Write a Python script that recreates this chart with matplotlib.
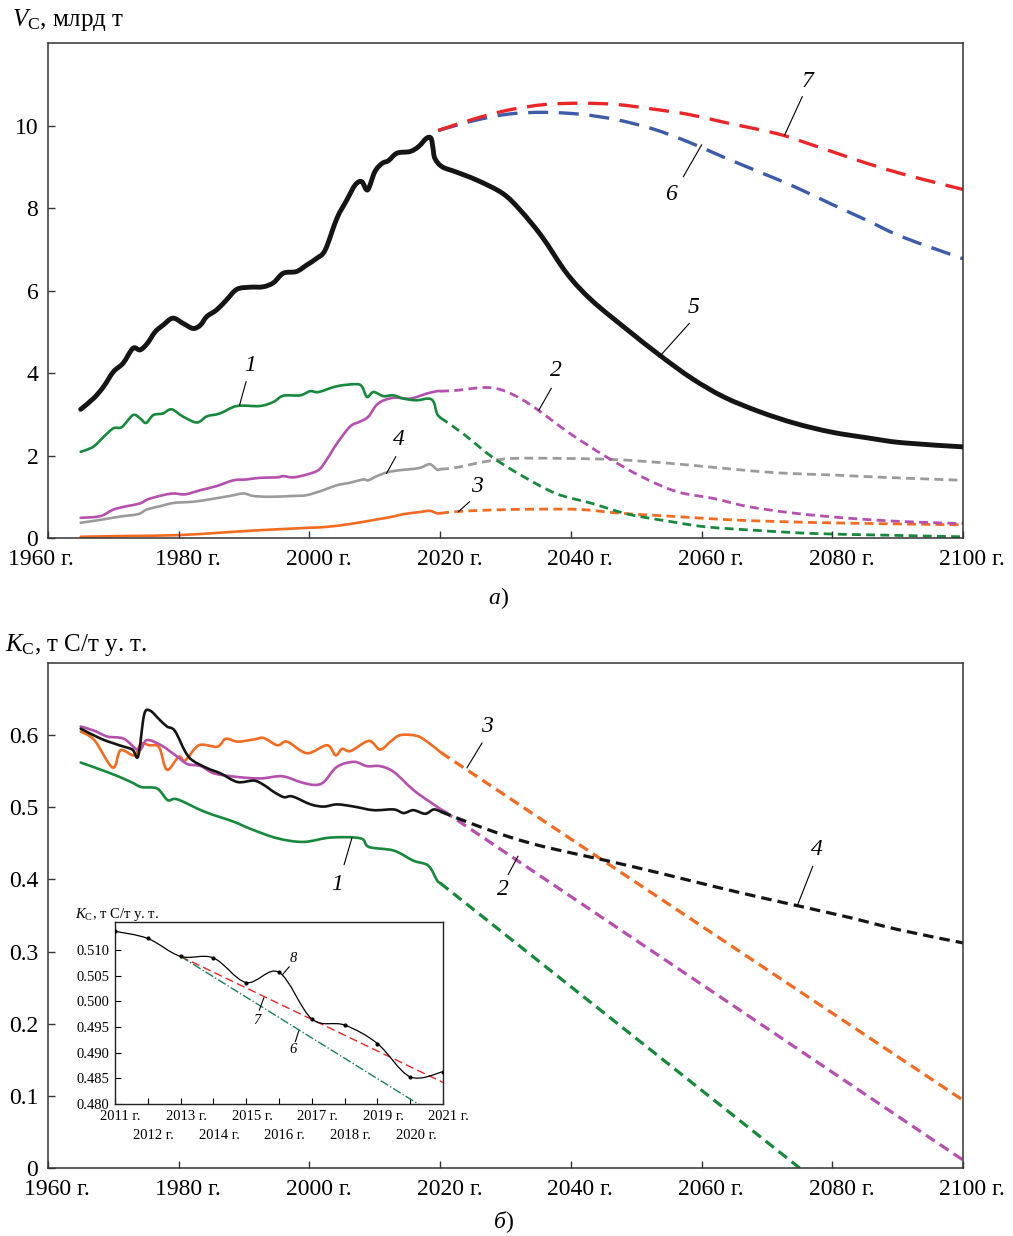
import matplotlib
matplotlib.use("Agg")
import matplotlib.pyplot as plt
from matplotlib.path import Path
from matplotlib.patches import PathPatch

plt.rcParams['font.family'] = ['Liberation Serif', 'DejaVu Serif']
plt.rcParams['mathtext.fontset'] = 'custom'
plt.rcParams['mathtext.rm'] = 'Liberation Serif'
plt.rcParams['mathtext.it'] = 'Liberation Serif:italic'

# ---------- а) V_C, млрд т ----------
years5 = [1965, 1967, 1968.5, 1970, 1971.5, 1973, 1974.1, 1975.2, 1976.4, 1977.6, 1979.1,
          1980.7, 1982.2, 1983.3, 1984.3, 1985.8, 1987.3, 1988.9, 1990.9, 1992.9, 1994.5,
          1996, 1998, 1999.6, 2001.1, 2002.4, 2004.2, 2005.7, 2007, 2008, 2008.9, 2010,
          2011.1, 2012.1, 2013.4, 2015.4, 2016.7, 2017.9, 2018.6, 2018.9, 2019.2, 2020.3,
          2022.5, 2025.7, 2029.6, 2032.3, 2035.6, 2039.4, 2043.2, 2048.7, 2053.6, 2058.5,
          2063.4, 2068.9, 2074.3, 2079.8, 2085.3, 2090.7, 2100]
vals5 = [3.12, 3.39, 3.67, 4.03, 4.24, 4.60, 4.56, 4.72, 5.00, 5.16, 5.33,
         5.20, 5.08, 5.16, 5.37, 5.53, 5.77, 6.03, 6.08, 6.09, 6.19,
         6.42, 6.46, 6.62, 6.78, 6.98, 7.75, 8.19, 8.56, 8.64, 8.44, 8.88,
         9.08, 9.15, 9.33, 9.37, 9.49, 9.69, 9.69, 9.45, 9.20, 9.00,
         8.87, 8.67, 8.35, 7.94, 7.30, 6.41, 5.76, 5.04, 4.43, 3.87,
         3.42, 3.06, 2.78, 2.57, 2.43, 2.31, 2.21]

years7 = [2019.7, 2025.2, 2030.6, 2036.1, 2041.6, 2047, 2052.5, 2058, 2063.4, 2071.6,
          2077.1, 2082.5, 2088, 2093.5, 2100]
vals7 = [9.88, 10.16, 10.38, 10.51, 10.54, 10.51, 10.40, 10.27, 10.08, 9.80,
         9.52, 9.23, 8.95, 8.71, 8.45]
years6 = [2019.7, 2025.2, 2030.6, 2036.1, 2041.6, 2047, 2052.5, 2058, 2063.4, 2068.9,
          2074.3, 2079.8, 2085.3, 2090.7, 2100]
vals6 = [9.88, 10.12, 10.28, 10.32, 10.27, 10.14, 9.92, 9.60, 9.23, 8.87,
         8.51, 8.10, 7.70, 7.30, 6.77]

v1_years = [1965, 1966.9, 1968.5, 1970, 1971.3, 1973, 1974.1, 1975, 1976.1, 1977.6, 1978.9,
            1980.7, 1982.8, 1984.3, 1986.3, 1988.9, 1992.4, 1994.5, 1996, 1998.6, 2000.1,
            2001.4, 2004.2, 2007, 2008, 2008.8, 2009.8, 2011.3, 2012.8, 2014.4, 2016.4,
            2018.2, 2019, 2019.5, 2020]
v1_vals = [2.09, 2.21, 2.45, 2.66, 2.69, 2.98, 2.90, 2.79, 2.98, 3.02, 3.12,
           2.94, 2.80, 2.95, 3.02, 3.20, 3.20, 3.30, 3.45, 3.46, 3.56,
           3.54, 3.68, 3.73, 3.68, 3.42, 3.54, 3.44, 3.46, 3.38, 3.34,
           3.38, 3.30, 3.02, 2.92]
v1_fyears = [2020, 2023.5, 2027.9, 2032.3, 2037.7, 2043.2, 2048.7, 2055.2, 2060.7, 2068.9,
             2077.1, 2088, 2100]
v1_fvals = [2.92, 2.53, 1.97, 1.53, 1.08, 0.84, 0.58, 0.40, 0.27, 0.18, 0.11, 0.07, 0.03]

v2_years = [1965, 1968, 1970, 1972, 1974.1, 1975.3, 1977.6, 1979.2, 1981, 1983.3, 1985.8,
            1988.4, 1990.4, 1992.4, 1995, 1996, 1997.5, 1999.6, 2001.4, 2002.6, 2004.2,
            2006.2, 2007.7, 2009, 2010.5, 2012.8, 2015.4, 2017.9, 2019.5, 2020]
v2_vals = [0.49, 0.53, 0.69, 0.77, 0.84, 0.94, 1.04, 1.08, 1.06, 1.16, 1.26,
           1.40, 1.42, 1.46, 1.47, 1.50, 1.47, 1.54, 1.65, 1.89, 2.29,
           2.70, 2.82, 2.94, 3.26, 3.40, 3.38, 3.50, 3.56, 3.56]
v2_fyears = [2020, 2022.5, 2026.8, 2029.6, 2032.3, 2035, 2039.9, 2045.4, 2050.9, 2056.3,
             2061.8, 2067.2, 2074.3, 2082.5, 2090.7, 2100]
v2_fvals = [3.56, 3.58, 3.65, 3.58, 3.38, 3.10, 2.53, 1.97, 1.48, 1.12,
            0.96, 0.76, 0.60, 0.48, 0.40, 0.35]

v3_years = [1965, 1972, 1980, 1987.3, 1992.4, 2000.1, 2002.6, 2006.2, 2010.3, 2012.8,
            2014.4, 2016.9, 2018.4, 2019.5, 2020]
v3_vals = [0.03, 0.05, 0.07, 0.14, 0.19, 0.25, 0.27, 0.34, 0.45, 0.52,
           0.58, 0.63, 0.66, 0.60, 0.60]
v3_fyears = [2020, 2022.5, 2027.9, 2035, 2041.6, 2047.6, 2055.2, 2063.4, 2071.6, 2082.5, 2100]
v3_fvals = [0.60, 0.64, 0.68, 0.70, 0.69, 0.60, 0.53, 0.45, 0.40, 0.36, 0.32]

v4_years = [1965, 1968, 1971, 1973.8, 1975.1, 1977.1, 1979.2, 1982.2, 1984.8, 1987.8,
            1989.9, 1991.4, 1994, 1997.5, 1999.6, 2002.1, 2004.2, 2006.2, 2008.2, 2009,
            2010.3, 2012.3, 2014.9, 2016.9, 2018.4, 2019.5, 2020]
v4_vals = [0.37, 0.44, 0.52, 0.58, 0.69, 0.77, 0.85, 0.88, 0.94, 1.02,
           1.08, 1.02, 1.00, 1.02, 1.04, 1.16, 1.28, 1.34, 1.42, 1.40,
           1.50, 1.61, 1.66, 1.70, 1.79, 1.66, 1.67]
v4_fyears = [2020, 2022.5, 2026.8, 2031.2, 2038.8, 2047, 2055.2, 2063.4, 2071.6, 2079.8, 2088, 2100]
v4_fvals = [1.67, 1.71, 1.85, 1.93, 1.93, 1.90, 1.81, 1.69, 1.58, 1.53, 1.47, 1.40]

# ---------- б) K_C, т С/т у. т. ----------
k1_years = [1965, 1969.6, 1972.7, 1974.3, 1976.7, 1978.3, 1979.8, 1983.9, 1988.4, 1991,
            1995.1, 1999.1, 2003.2, 2007.8, 2009.1, 2012.9, 2015.9, 2018.2, 2019.5, 2020]
k1_vals = [0.562, 0.547, 0.535, 0.528, 0.526, 0.510, 0.511, 0.494, 0.480, 0.470,
           0.457, 0.452, 0.458, 0.457, 0.445, 0.440, 0.426, 0.419, 0.399, 0.395]
k1_fyears = [2020, 2075]
k1_fvals = [0.395, 0.0]

k2_years = [1965, 1967.1, 1969.1, 1971.6, 1973.9, 1975.1, 1977.3, 1979.8, 1981.3, 1983.4,
            1985.4, 1989, 1992.5, 1995.8, 1998.6, 2000.7, 2002.2, 2004.2, 2006.8, 2008.8,
            2010.8, 2012.9, 2015.9, 2018.5, 2020.5]
k2_vals = [0.612, 0.606, 0.598, 0.595, 0.579, 0.593, 0.586, 0.570, 0.560, 0.557,
           0.547, 0.542, 0.540, 0.543, 0.535, 0.531, 0.535, 0.556, 0.563, 0.557,
           0.557, 0.549, 0.524, 0.507, 0.495]
k2_fyears = [2020.5, 2100]
k2_fvals = [0.495, 0.011]

k3_years = [1965, 1967.1, 1969.9, 1971.1, 1973.2, 1974.2, 1975.5, 1977, 1978.2, 1980,
            1981, 1983.1, 1985.9, 1987.2, 1989, 1991.5, 1993, 1995.1, 1996.6, 1999.6,
            2002.7, 2004, 2005, 2006.3, 2009.1, 2010.8, 2012.4, 2013.9, 2016.4, 2018, 2020.1]
k3_vals = [0.605, 0.593, 0.555, 0.579, 0.572, 0.588, 0.586, 0.583, 0.552, 0.570,
           0.565, 0.586, 0.584, 0.595, 0.591, 0.594, 0.596, 0.586, 0.591, 0.575,
           0.586, 0.572, 0.581, 0.578, 0.592, 0.580, 0.591, 0.600, 0.599, 0.591, 0.576]
k3_fyears = [2020.1, 2100]
k3_fvals = [0.576, 0.094]

k4_years = [1965, 1968.1, 1970.9, 1972.9, 1973.8, 1974.7, 1975.6, 1977, 1978.2, 1979.4,
            1981, 1982.1, 1984.4, 1986.4, 1989, 1991.5, 1993, 1994.6, 1996.1, 1997.4,
            2000.2, 2002.2, 2004.2, 2006.8, 2009.8, 2012.9, 2014.4, 2015.9, 2017.7, 2019, 2020.1]
k4_vals = [0.609, 0.595, 0.586, 0.580, 0.571, 0.628, 0.634, 0.622, 0.612, 0.606,
           0.577, 0.565, 0.554, 0.547, 0.535, 0.537, 0.531, 0.521, 0.514, 0.515,
           0.504, 0.501, 0.504, 0.501, 0.496, 0.497, 0.492, 0.496, 0.491, 0.497, 0.494]
k4_fyears = [2020.1, 2025.2, 2030.9, 2036.5, 2045, 2053.5, 2062, 2070.5, 2081.8, 2090.3, 2100]
k4_fvals = [0.494, 0.476, 0.458, 0.444, 0.427, 0.409, 0.390, 0.372, 0.349, 0.330, 0.312]

# inset: 2011-2021
ins_years = [2011, 2012, 2013, 2014, 2015, 2016, 2017, 2018, 2019, 2020, 2021]
ins_k = [0.5137, 0.5123, 0.5088, 0.5085, 0.5037, 0.5057, 0.4966, 0.4954, 0.4918, 0.4853, 0.4863]
trend7_years = [2013, 2021]
trend7_vals = [0.5088, 0.4842]
trend6_years = [2013, 2021]
trend6_vals = [0.5088, 0.4770]

xticks = [1960, 1980, 2000, 2020, 2040, 2060, 2080, 2100]

GREEN = '#17893d'
MAGENTA = '#b550ae'
ORANGE = '#f36b21'
GRAY = '#9b9b9b'
BLACK = '#151515'
RED = '#ea2629'
BLUE = '#3c5ba8'
SPINE = '#333333'
FS = 17


def smooth(ax, xs, ys, **kw):
    """Draw a curve through the points as Catmull-Rom cubic Bezier pieces."""
    pts = list(zip(xs, ys))
    verts = [pts[0]]
    codes = [Path.MOVETO]
    for i in range(len(pts) - 1):
        p0 = pts[i - 1] if i > 0 else pts[i]
        p1, p2 = pts[i], pts[i + 1]
        p3 = pts[i + 2] if i + 2 < len(pts) else pts[i + 1]
        c1 = (p1[0] + (p2[0] - p0[0]) / 6, p1[1] + (p2[1] - p0[1]) / 6)
        c2 = (p2[0] - (p3[0] - p1[0]) / 6, p2[1] - (p3[1] - p1[1]) / 6)
        verts += [c1, c2, p2]
        codes += [Path.CURVE4] * 3
    kw.setdefault('capstyle', 'round')
    kw.setdefault('joinstyle', 'round')
    ax.add_patch(PathPatch(Path(verts, codes), fill=False, **kw))


fig = plt.figure(figsize=(10.13, 12.36), dpi=100)
ax1 = fig.add_axes([0.0474, 0.5647, 0.9033, 0.4005])
ax2 = fig.add_axes([0.0474, 0.0550, 0.9033, 0.4086])


def style_axes(ax, first_shift=0):
    for s in ax.spines.values():
        s.set_color(SPINE)
        s.set_linewidth(1.1)
    ax.set_xlim(1960, 2100)
    ax.set_xticks(xticks)
    ax.tick_params(direction='in', length=5, width=1, color=SPINE,
                   labelsize=FS, pad=7, labelbottom=False)
    # the year number sits centred on the tick, " г." hangs to the right
    for i, yr in enumerate(xticks):
        dx = -FS - (first_shift if i == 0 else 0)
        ax.annotate(f'{yr} г.', xy=(yr, 0), xycoords=('data', 'axes fraction'),
                    xytext=(dx, -8), textcoords='offset points',
                    ha='left', va='top', fontsize=FS)


def tag(ax, s, txt, p0, p1, fs=FS):
    ax.plot([p0[0], p1[0]], [p0[1], p1[1]], color='black', lw=0.8, zorder=6)
    ax.text(txt[0], txt[1], s, fontsize=fs, style='italic',
            ha='center', va='center', zorder=6)


# ----- top panel -----
for yrs, vals, fy, fv, c in [(v4_years, v4_vals, v4_fyears, v4_fvals, GRAY),
                             (v3_years, v3_vals, v3_fyears, v3_fvals, ORANGE),
                             (v2_years, v2_vals, v2_fyears, v2_fvals, MAGENTA),
                             (v1_years, v1_vals, v1_fyears, v1_fvals, GREEN)]:
    smooth(ax1, yrs, vals, color=c, lw=1.9)
    smooth(ax1, fy, fv, color=c, lw=2.0, linestyle=(0, (3.2, 1.9)), capstyle='butt')

smooth(ax1, years6, vals6, color=BLUE, lw=2.4, linestyle=(0, (6, 3.2)), capstyle='butt')
smooth(ax1, years7, vals7, color=RED, lw=2.4, linestyle=(0, (6, 3.2)), capstyle='butt')
smooth(ax1, years5, vals5, color=BLACK, lw=3.5, zorder=4)

ax1.set_ylim(0, 12)
ax1.set_yticks([0, 2, 4, 6, 8, 10])
ax1.set_yticklabels(['0', '2', '4', '6', '8', '10'])
style_axes(ax1, first_shift=12)

tag(ax1, '1', (1990.9, 4.19), (1990.3, 3.79), (1989.3, 3.22))
tag(ax1, '4', (2013.7, 2.38), (2013.2, 1.97), (2011.8, 1.57))
tag(ax1, '2', (2037.7, 4.07), (2037.0, 3.63), (2035.1, 3.10))
tag(ax1, '3', (2025.6, 1.24), (2024.5, 0.88), (2022.8, 0.64))
tag(ax1, '5', (2058.7, 5.58), (2058.1, 5.20), (2053.8, 4.44))
tag(ax1, '6', (2055.3, 8.32), (2057.2, 8.76), (2060.0, 9.53))
tag(ax1, '7', (2076.2, 11.06), (2075.4, 10.70), (2072.7, 9.77))

fig.text(0.012, 0.984, r'$V_{\mathrm{C}}$, млрд т', fontsize=18, ha='left', va='center')
fig.text(0.494, 0.516, 'а', fontsize=FS, style='italic', ha='right', va='center')
fig.text(0.494, 0.516, ')', fontsize=FS, ha='left', va='center')

# ----- bottom panel -----
for yrs, vals, fy, fv, c in [(k1_years, k1_vals, k1_fyears, k1_fvals, GREEN),
                             (k3_years, k3_vals, k3_fyears, k3_fvals, ORANGE),
                             (k2_years, k2_vals, k2_fyears, k2_fvals, MAGENTA),
                             (k4_years, k4_vals, k4_fyears, k4_fvals, BLACK)]:
    smooth(ax2, yrs, vals, color=c, lw=1.9)
    smooth(ax2, fy, fv, color=c, lw=2.3, linestyle=(0, (3.3, 1.9)), capstyle='butt')

ax2.set_ylim(0, 0.7)
ax2.set_yticks([0, 0.1, 0.2, 0.3, 0.4, 0.5, 0.6])
ax2.set_yticklabels(['0', '0.1', '0.2', '0.3', '0.4', '0.5', '0.6'])
style_axes(ax2)

tag(ax2, '1', (2004.2, 0.393), (2005.3, 0.4205), (2006.5, 0.4576))
tag(ax2, '3', (2027.2, 0.6125), (2026.4, 0.589), (2024.1, 0.5548))
tag(ax2, '2', (2029.6, 0.386), (2030.4, 0.4067), (2031.9, 0.432))
tag(ax2, '4', (2077.7, 0.442), (2077.0, 0.418), (2074.7, 0.365))

fig.text(0.005, 0.478, r'$K_{\mathrm{C}}$, т С/т у. т.', fontsize=18, ha='left', va='center')
fig.text(0.499, 0.011, 'б', fontsize=FS, style='italic', ha='right', va='center')
fig.text(0.499, 0.011, ')', fontsize=FS, ha='left', va='center')

# ----- inset -----
axi = fig.add_axes([0.1135, 0.1068, 0.3238, 0.1472], zorder=5)
axi.set_facecolor('white')
FSI = 10.5

smooth(axi, ins_years, ins_k, color='black', lw=0.9, zorder=4)
axi.plot(ins_years, ins_k, 'o', color='black', ms=2, zorder=5)
axi.plot(trend7_years, trend7_vals, color=RED, lw=1.0, linestyle=(0, (6, 3)), zorder=3)
axi.plot(trend6_years, trend6_vals, color='#1e7f5c', lw=1.0, linestyle='-.', zorder=3)

axi.set_xlim(2011, 2021)
axi.set_ylim(0.480, 0.5155)
axi.set_yticks([0.480, 0.485, 0.490, 0.495, 0.500, 0.505, 0.510])
axi.set_yticklabels(['0.480', '0.485', '0.490', '0.495', '0.500', '0.505', '0.510'])
axi.set_xticks(ins_years)
axi.tick_params(direction='in', length=4, width=0.8, labelsize=FSI, pad=4,
                labelbottom=False)
for s in axi.spines.values():
    s.set_linewidth(1.0)
    s.set_color('#222222')
for yr in ins_years:
    row = -4 if yr % 2 == 1 else -18
    axi.annotate(f'{yr} г.', xy=(yr, 0), xycoords=('data', 'axes fraction'),
                 xytext=(-FSI, row), textcoords='offset points',
                 ha='left', va='top', fontsize=FSI)

tag(axi, '8', (2016.44, 0.50838), (2016.31, 0.50675), (2016.11, 0.50527), fs=FSI)
tag(axi, '7', (2015.32, 0.49638), (2015.40, 0.49832), (2015.54, 0.50072), fs=FSI)
tag(axi, '6', (2016.44, 0.49073), (2016.50, 0.49216), (2016.60, 0.49424), fs=FSI)

fig.text(0.074, 0.26, r'$K_{\mathrm{C}}$, т С/т у. т.', fontsize=FSI, ha='left', va='center')

fig.savefig('out.png', dpi=100)
